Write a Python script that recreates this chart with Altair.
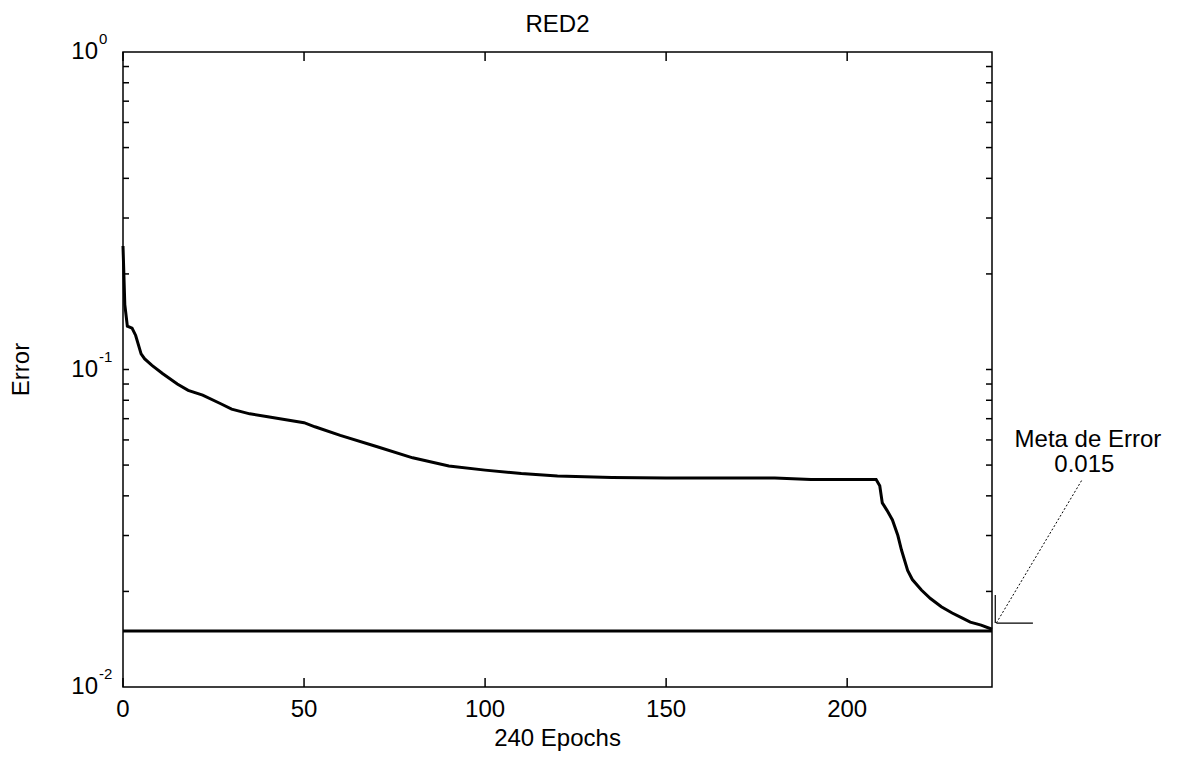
import altair as alt
import pandas as pd

# ---- data ----
epochs = [0, 0.5, 1.2, 2.5, 3.5, 5, 6, 8, 11, 15, 18, 22, 27, 30, 35, 40, 45, 50, 53, 60,
          70, 80, 90, 100, 110, 120, 135, 150, 180, 190, 208, 209, 209.7, 211, 212.5, 214,
          215, 216.7, 218, 220.5, 223, 226, 229, 231.7, 234, 237, 240]
errors = [0.245, 0.16, 0.137, 0.135, 0.128, 0.112, 0.108, 0.103, 0.097, 0.090, 0.086, 0.083,
          0.078, 0.075, 0.0725, 0.071, 0.0695, 0.068, 0.066, 0.062, 0.0572, 0.0527, 0.0497,
          0.0482, 0.0470, 0.0462, 0.0457, 0.0455, 0.0455, 0.0450, 0.0450, 0.043, 0.038, 0.036,
          0.0336, 0.030, 0.027, 0.0233, 0.0218, 0.0202, 0.019, 0.0179, 0.0171, 0.0165, 0.016,
          0.01567, 0.0152]

goal_value = 0.015
goal_start, goal_end = 0, 240

x_ticks = [0, 50, 100, 150, 200]
x_tick_labels = ["0", "50", "100", "150", "200"]
y_major = [0.01, 0.1, 1]
y_exponents = ["-2", "-1", "0"]
y_minor = [0.02, 0.03, 0.04, 0.05, 0.06, 0.07, 0.08, 0.09, 0.1,
           0.2, 0.3, 0.4, 0.5, 0.6, 0.7, 0.8, 0.9]

# annotation (data units)
ann_text = ["Meta de Error", "0.015"]
ann_text_x = [266.5, 265.5]
ann_text_y = [0.057, 0.0475]
arrow_x, arrow_y = 241.2, 0.0159
arrow_tail_x, arrow_tail_y = 265.0, 0.0452
hbar_x2 = 251.3
vbar_y2 = 0.0195

TITLE = "RED2"
XTITLE = "240 Epochs"
YTITLE = "Error"

W, H = 869, 635
FONT = "Liberation Sans"

curve_df = pd.DataFrame({"epoch": epochs, "error": errors})
goal_df = pd.DataFrame({"x": [goal_start], "x2": [goal_end], "y": [goal_value]})
xt_df = pd.DataFrame({"epoch": x_ticks, "label": x_tick_labels})
ymaj_df = pd.DataFrame({"error": y_major, "exp": y_exponents, "base": ["10"] * 3})
ymin_df = pd.DataFrame({"error": y_minor})
ann_df = pd.DataFrame({"x": ann_text_x, "y": ann_text_y, "t": ann_text})
arrow_df = pd.DataFrame({"x": [arrow_x], "y": [arrow_y], "x2": [arrow_tail_x], "y2": [arrow_tail_y]})
hbar_df = pd.DataFrame({"x": [arrow_x], "x2": [hbar_x2], "y": [arrow_y]})
vbar_df = pd.DataFrame({"x": [arrow_x - 0.3], "y": [arrow_y], "y2": [vbar_y2]})

xs = alt.Scale(domain=[0, 240], nice=False, zero=False)
ys = alt.Scale(type="log", domain=[0.01, 1], nice=False)

curve = alt.Chart(curve_df).mark_line(color="black", strokeWidth=3).encode(
    x=alt.X("epoch:Q", scale=xs, axis=None),
    y=alt.Y("error:Q", scale=ys, axis=None),
)

goal = alt.Chart(goal_df).mark_rule(color="black", strokeWidth=3).encode(
    x=alt.X("x:Q", scale=xs, axis=None), x2="x2:Q",
    y=alt.Y("y:Q", scale=ys, axis=None))

xt_bottom = alt.Chart(xt_df).mark_rule(color="black", strokeWidth=1.5).encode(
    x=alt.X("epoch:Q", scale=xs, axis=None), y=alt.value(H), y2=alt.value(H - 9))
xt_top = alt.Chart(xt_df).mark_rule(color="black", strokeWidth=1.5).encode(
    x=alt.X("epoch:Q", scale=xs, axis=None), y=alt.value(0), y2=alt.value(9))
yt_left = alt.Chart(ymin_df).mark_rule(color="black", strokeWidth=1.5).encode(
    y=alt.Y("error:Q", scale=ys, axis=None), x=alt.value(0), x2=alt.value(6))
yt_right = alt.Chart(ymin_df).mark_rule(color="black", strokeWidth=1.5).encode(
    y=alt.Y("error:Q", scale=ys, axis=None), x=alt.value(W - 6), x2=alt.value(W))

x_labels = alt.Chart(xt_df).mark_text(font=FONT, fontSize=24, color="black",
                                      align="center", baseline="alphabetic").encode(
    x=alt.X("epoch:Q", scale=xs, axis=None), y=alt.value(H + 30), text="label:N")

y_base = alt.Chart(ymaj_df).mark_text(font=FONT, fontSize=24, color="black",
                                      align="right", baseline="middle").encode(
    y=alt.Y("error:Q", scale=ys, axis=None), x=alt.value(-25), text="base:N")
y_exp = alt.Chart(ymaj_df).mark_text(font=FONT, fontSize=15, color="black",
                                     align="left", baseline="alphabetic", dy=-8).encode(
    y=alt.Y("error:Q", scale=ys, axis=None), x=alt.value(-24), text="exp:N")

arrow = alt.Chart(arrow_df).mark_rule(color="black", strokeWidth=1, strokeDash=[2, 2]).encode(
    x=alt.X("x:Q", scale=xs, axis=None), x2="x2:Q",
    y=alt.Y("y:Q", scale=ys, axis=None), y2="y2:Q")
hbar = alt.Chart(hbar_df).mark_rule(color="black", strokeWidth=1.2).encode(
    x=alt.X("x:Q", scale=xs, axis=None), x2="x2:Q",
    y=alt.Y("y:Q", scale=ys, axis=None))
vbar = alt.Chart(vbar_df).mark_rule(color="black", strokeWidth=1.2).encode(
    x=alt.X("x:Q", scale=xs, axis=None),
    y=alt.Y("y:Q", scale=ys, axis=None), y2="y2:Q")
ann = alt.Chart(ann_df).mark_text(font=FONT, fontSize=24, color="black",
                                  align="center", baseline="alphabetic").encode(
    x=alt.X("x:Q", scale=xs, axis=None), y=alt.Y("y:Q", scale=ys, axis=None), text="t:N")

# chart title and axis titles as text marks
title_mark = alt.Chart(pd.DataFrame({"t": [TITLE]})).mark_text(
    font=FONT, fontSize=24, color="black", align="center", baseline="alphabetic").encode(
    x=alt.value(W / 2), y=alt.value(-20), text="t:N")
xtitle_mark = alt.Chart(pd.DataFrame({"t": [XTITLE]})).mark_text(
    font=FONT, fontSize=24, color="black", align="center", baseline="alphabetic").encode(
    x=alt.value(W / 2), y=alt.value(H + 59), text="t:N")
ytitle_mark = alt.Chart(pd.DataFrame({"t": [YTITLE]})).mark_text(
    font=FONT, fontSize=24, color="black", align="center", baseline="middle", angle=270).encode(
    x=alt.value(-101), y=alt.value(H / 2), text="t:N")

chart = alt.layer(
    curve, goal, xt_bottom, xt_top, yt_left, yt_right, x_labels, y_base, y_exp,
    arrow, hbar, vbar, ann, title_mark, xtitle_mark, ytitle_mark
).properties(
    width=W, height=H,
    autosize=alt.AutoSizeParams(type="none"),
    padding={"left": 115, "top": 44, "right": 180, "bottom": 69},
    background="white",
).configure_view(stroke="black", strokeWidth=1.5)

chart.save("out.html", embed_options={"renderer": "svg", "actions": False})
